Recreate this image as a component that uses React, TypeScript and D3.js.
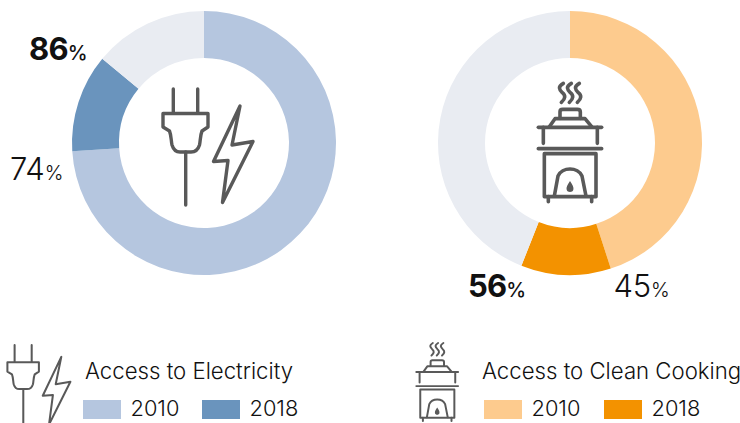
import React from "react";
import * as d3 from "d3";

const years = ["2010", "2018"];
const electricityValues = [74, 12, 14];
const cookingValues = [45, 11, 44];
const electricityColors = ["#b5c6df", "#6a94bd", "#e9ecf2"];
const cookingColors = ["#fdcb8e", "#f39200", "#e9ecf2"];
const electricityTitle = "Access to Electricity";
const cookingTitle = "Access to Clean Cooking";

const FONT = "Inter, sans-serif";
const INK = "#111";
const ICON = "#595959";

function Donut({ cx, cy, values, colors }: { cx: number; cy: number; values: number[]; colors: string[] }) {
  const pie = d3.pie<number>().sort(null).value((d) => d);
  const arc = d3.arc<d3.PieArcDatum<number>>().innerRadius(85).outerRadius(132);
  return (
    <g transform={`translate(${cx},${cy})`}>
      {pie(values).map((s, i) => (
        <path key={i} d={arc(s) || ""} fill={colors[i]} />
      ))}
    </g>
  );
}

function PlugIcon({ transform, sw }: { transform: string; sw: number }) {
  return (
    <g transform={transform} fill="none" stroke={ICON} strokeWidth={sw} strokeLinecap="round" strokeLinejoin="round">
      <path d="M173.3 89V113M197.7 89V113" />
      <path d="M163 113.5H208V127L202 131C200 136 200.5 141 199.5 145C198 150 195 152 191 152H180C176 152 173.5 150 172 145C171 141 171.5 136 169.5 131L163 127Z" />
      <path d="M185.7 152V205" />
      <path d="M240 106L232 145L253 141.5L222.5 202.5L228 160.5L213.5 161.5Z" />
    </g>
  );
}

function StoveIcon({ transform, sw }: { transform: string; sw: number }) {
  const p = (x: number, y: number) => `${510 + x / 3} ${70 + y / 3}`;
  const steam = (x: number) =>
    `M${p(x + 3, 40)}C${p(x - 14, 50)} ${p(x - 10, 58)} ${p(x, 68)}C${p(x + 10, 76)} ${p(x + 10, 86)} ${p(x - 3, 97)}`;
  return (
    <g transform={transform} fill="none" stroke={ICON} strokeWidth={sw} strokeLinecap="round" strokeLinejoin="round">
      <path d={steam(157)} />
      <path d={steam(181)} />
      <path d={steam(205)} />
      <path d={`M${p(150, 145)}V${70 + 125 / 3}Q${p(150, 118)} ${p(158, 118)}H${510 + 202 / 3}Q${p(211, 118)} ${p(211, 126)}V${70 + 145 / 3}`} />
      <path d={`M${p(118, 170)}L${p(135, 146)}H${510 + 225 / 3}L${p(245, 170)}`} />
      <path d={`M${p(85, 172)}H${510 + 275 / 3}`} />
      <path d={`M${p(100, 172)}V${70 + 220 / 3}M${p(262, 172)}V${70 + 220 / 3}`} />
      <path d={`M${p(85, 236)}H${510 + 275 / 3}`} />
      <path d={`M${p(103, 380)}V${70 + 251 / 3}H${510 + 258 / 3}V${70 + 380 / 3}Z`} />
      <path d={`M${p(115, 380)}V${70 + 395 / 3}M${p(245, 380)}V${70 + 395 / 3}`} />
      <path d={`M${p(133, 378)}L${p(144, 318)}C${p(150, 305)} ${p(165, 297)} ${p(180, 297)}C${p(195, 297)} ${p(210, 305)} ${p(216, 318)}L${p(228, 378)}`} />
      <path
        d={`M${p(180, 333)}C${p(172, 345)} ${p(168, 352)} ${p(170, 359)}C${p(172, 368)} ${p(188, 368)} ${p(190, 359)}C${p(192, 352)} ${p(188, 345)} ${p(180, 333)}Z`}
        fill={ICON}
        stroke="none"
      />
    </g>
  );
}

function PctLabel({ x, y, value, bold }: { x: number; y: number; value: number; bold?: boolean }) {
  return (
    <text x={x} y={y} fontFamily={FONT} fill={INK}>
      <tspan fontSize={31} fontWeight={bold ? 700 : 300} letterSpacing={bold ? -0.8 : -0.2}>{value}</tspan>
      <tspan fontSize={20} fontWeight={bold ? 500 : 300}>%</tspan>
    </text>
  );
}

function Legend({ x, rectX, step, title, colors }: { x: number; rectX: number; step: number; title: string; colors: string[] }) {
  return (
    <g fontFamily={FONT} fill={INK}>
      <text x={x} y={379} fontSize={22.2} fontWeight={300}>{title}</text>
      {years.map((yr, i) => {
        const bx = rectX + i * step;
        return (
          <g key={yr}>
            <rect x={bx} y={400} width={38} height={19} fill={colors[i]} />
            <text x={bx + 47.5} y={416} fontSize={21.8} fontWeight={300}>{yr}</text>
          </g>
        );
      })}
    </g>
  );
}

export default function App() {
  return (
    <svg width={740} height={423} viewBox="0 0 740 423" style={{ position: "absolute", left: 0, top: 0 }}>
      <Donut cx={204} cy={143} values={electricityValues} colors={electricityColors} />
      <Donut cx={570} cy={143} values={cookingValues} colors={cookingColors} />
      <PlugIcon transform="" sw={3.4} />
      <StoveIcon transform="" sw={3.6} />
      <PctLabel x={29} y={60} value={86} bold />
      <PctLabel x={10} y={180} value={74} />
      <PctLabel x={468} y={297} value={56} bold />
      <PctLabel x={613.5} y={297} value={45} />
      <PlugIcon transform="translate(-106.7,282.7) scale(0.7)" sw={2.9} />
      <StoveIcon transform="translate(61,288) scale(0.66)" sw={3} />
      <Legend x={85} rectX={83} step={119} title={electricityTitle} colors={electricityColors} />
      <Legend x={482} rectX={484} step={120} title={cookingTitle} colors={cookingColors} />
    </svg>
  );
}
